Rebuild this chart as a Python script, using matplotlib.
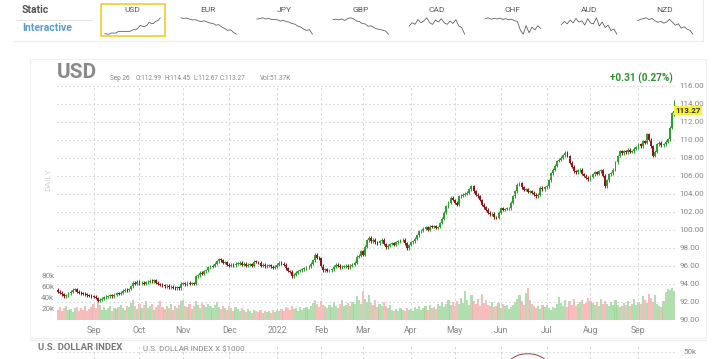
import numpy as np
import pandas as pd
import matplotlib
matplotlib.use("Agg")
import matplotlib.pyplot as plt
from matplotlib.patches import Rectangle
from matplotlib.lines import Line2D

plt.rcParams['font.family'] = ['Roboto', 'DejaVu Sans']

# ---------------- data ----------------
dates = pd.bdate_range('2021-08-09', '2022-09-26')

closes = [
    93.1, 93.0, 92.8, 92.6, 92.7, 92.9, 93.1, 93.3, 93.4, 93.1,
    93.0, 92.9, 92.85, 92.8, 92.7, 92.65, 92.6, 92.55, 92.4, 92.1,
    92.2, 92.3, 92.45, 92.55, 92.6, 92.7, 92.6, 92.75, 92.9, 92.85,
    93.0, 93.2, 93.3, 93.25, 93.4, 93.7, 94.1, 94.0, 94.2, 94.05,
    94.1, 94.0, 94.15, 94.2, 94.3, 94.25, 94.35, 94.1, 93.95, 93.85,
    93.8, 93.7, 93.75, 93.6, 93.65, 93.55, 93.5, 93.6, 93.5, 94.0,
    94.05, 93.9, 94.1, 94.0, 94.05, 94.0, 94.8, 94.9, 95.2, 95.1,
    95.35, 95.5, 95.8, 95.9, 96.0, 96.2, 96.5, 96.7, 96.6, 96.3,
    96.4, 96.1, 96.0, 96.1, 96.05, 96.2, 96.2, 96.3, 96.1, 96.2,
    96.0, 96.1, 96.15, 96.0, 96.45, 96.4, 96.3, 96.0, 96.1, 95.95,
    96.0, 96.05, 95.9, 95.75, 95.9, 96.1, 96.3, 96.2, 96.1, 95.7,
    95.4, 95.3, 94.8, 95.0, 95.2, 95.4, 95.5, 95.6, 95.7, 95.8,
    95.9, 96.2, 96.6, 97.2, 96.9, 96.8, 96.0, 95.5, 95.6, 95.4,
    95.5, 95.6, 95.9, 96.1, 96.0, 95.8, 95.9, 95.9, 96.0, 95.8,
    96.0, 96.1, 96.3, 97.0, 97.1, 97.6, 97.2, 98.1, 98.8, 99.1,
    98.7, 98.9, 98.6, 98.5, 98.7, 98.9, 98.4, 98.05, 98.2, 98.4,
    98.5, 98.3, 98.6, 98.7, 98.8, 98.9, 98.5, 97.95, 98.3, 98.6,
    98.7, 99.0, 99.4, 99.8, 99.9, 100.1, 100.3, 100.0, 100.35, 100.3,
    100.4, 100.2, 100.3, 100.75, 101.2, 101.9, 102.6, 103.0, 103.55, 103.3,
    103.0, 102.8, 103.7, 103.8, 103.9, 104.0, 104.1, 104.5, 104.85, 104.3,
    103.9, 103.7, 103.3, 102.8, 102.5, 102.2, 101.9, 101.7, 101.8, 101.4,
    101.3, 101.9, 102.4, 102.2, 102.3, 102.4, 102.4, 103.0, 103.7, 104.3,
    105.0, 105.2, 104.7, 104.45, 104.5, 104.2, 104.3, 104.1, 103.9, 103.7,
    103.9, 104.65, 104.5, 104.7, 104.85, 105.5, 106.3, 106.7, 107.1, 107.65,
    107.8, 108.0, 108.3, 108.55, 108.2, 107.45, 107.0, 106.5, 106.4, 106.6,
    106.7, 106.2, 106.0, 105.8, 105.6, 105.9, 106.15, 106.4, 106.2, 106.5,
    106.6, 106.0, 104.85, 105.5, 106.15, 106.3, 106.7, 107.5, 108.2, 108.75,
    108.5, 108.75, 108.6, 108.9, 108.7, 108.75, 109.0, 109.2, 109.5, 109.3,
    109.85, 109.7, 110.6, 110.0, 109.3, 108.2, 108.7, 109.5, 109.7, 109.4,
    109.5, 109.8, 110.05, 111.35, 112.96, 113.27,
]
first_open = 93.3
last_open = 112.99
last_high = 114.45
last_low = 112.67

volumes = [
    18, 22, 15, 20, 25, 17, 19, 14, 21, 23,
    16, 20, 18, 24, 15, 19, 22, 28, 21, 35,
    26, 18, 22, 17, 20, 24, 16, 21, 19, 23,
    27, 20, 18, 25, 22, 30, 36, 24, 19, 28,
    21, 26, 33, 20, 24, 29, 18, 22, 27, 34,
    23, 19, 25, 21, 28, 17, 24, 20, 26, 33,
    36, 25, 22, 28, 19, 24, 33, 27, 21, 30,
    26, 22, 29, 24, 20, 27, 32, 23, 19, 25,
    21, 18, 24, 20, 16, 22, 19, 15, 20, 17,
    14, 19, 16, 12, 18, 15, 13, 17, 11, 15,
    13, 16, 12, 18, 14, 17, 15, 19, 16, 22,
    20, 17, 24, 19, 21, 16, 22, 18, 20, 23,
    19, 25, 30, 36, 28, 22, 33, 27, 24, 20,
    26, 22, 31, 25, 21, 28, 35, 24, 27, 30,
    25, 32, 29, 42, 35, 28, 51, 37, 32, 44,
    30, 27, 35, 22, 28, 25, 32, 24, 21, 26,
    17, 15, 19, 16, 21, 18, 15, 20, 17, 19,
    16, 22, 19, 25, 18, 21, 24, 17, 27, 20,
    23, 19, 28, 25, 32, 22, 29, 36, 26, 31,
    24, 34, 28, 39, 30, 52, 35, 27, 44, 33,
    29, 38, 25, 46, 30, 35, 27, 24, 32, 22,
    25, 30, 21, 28, 24, 26, 19, 23, 27, 31,
    38, 45, 33, 27, 48, 58, 36, 29, 25, 21,
    24, 19, 27, 22, 26, 20, 18, 23, 21, 28,
    41, 30, 25, 35, 22, 33, 27, 37, 24, 29,
    31, 36, 28, 30, 39, 34, 30, 26, 32, 24,
    37, 29, 34, 28, 24, 31, 26, 35, 27, 22,
    25, 30, 27, 33, 24, 29, 38, 26, 31, 28,
    43, 35, 30, 47, 39, 32, 44, 28, 25, 22,
    33, 50, 55, 54, 58, 51.37,
]

price_ticks = [90, 92, 94, 96, 98, 100, 102, 104, 106, 108, 110, 112, 114, 116]
vol_ticks = [20, 40, 60, 80]
vol_tick_labels = ['20k', '40k', '60k', '80k']

currencies = ['USD', 'EUR', 'JPY', 'GBP', 'CAD', 'CHF', 'AUD', 'NZD']
spark_eur = [10, 9.8, 9.9, 9.5, 9.2, 9.3, 8.8, 8.6, 8.9, 8.4, 8.0, 7.9, 7.2, 7.4, 6.5, 6.0, 5.2, 5.5, 4.5, 3.8]
spark_jpy = [9, 9.2, 9.5, 9.0, 9.3, 8.8, 8.9, 8.7, 8.2, 8.5, 8.0, 7.8, 7.2, 7.0, 6.2, 5.8, 5.0, 4.5, 4.8, 3.0]
spark_gbp = [8.5, 8.7, 8.4, 8.8, 8.2, 8.9, 9.2, 8.8, 8.0, 7.8, 7.0, 6.9, 6.0, 6.2, 5.5, 5.0, 4.8, 4.5, 4.2, 3.0]
spark_cad = [7, 8, 7.5, 9, 8, 8.5, 9.5, 8, 7.5, 8.8, 8.2, 9.2, 8, 7.5, 8.5, 7.8, 8.9, 7, 6.5, 4.5]
spark_chf = [9, 9.3, 8.8, 9.1, 8.9, 9.2, 8.7, 9.0, 8.6, 8.8, 8.3, 8.0, 5.0, 3.5, 6.5, 4.0, 6.0, 5.0, 6.5, 5.5]
spark_aud = [7, 8, 7.2, 8.5, 7.5, 9, 7.8, 8.2, 6.8, 8.9, 7.5, 7.2, 9.2, 6.5, 7.8, 6.0, 6.8, 5.0, 5.5, 3.8]
spark_nzd = [8, 8.5, 8.7, 9.0, 8.4, 8.8, 8, 7.5, 7.8, 7.2, 7.6, 8.5, 7.5, 6.5, 7, 5.5, 6, 5.2, 4.8, 3.5]

lower_pane_idx = [217, 219, 221, 223, 225, 227, 229, 231, 233]
lower_pane_vals = [35, 40, 43.5, 45, 45.5, 45, 43.5, 40, 35]

# ---------------- derived ----------------
n = len(closes)
closes_a = np.array(closes)
opens_a = np.concatenate([[first_open], closes_a[:-1]])
opens_a[-1] = last_open
up = closes_a >= opens_a
WICK = 0.16
highs_a = np.maximum(opens_a, closes_a) + WICK
lows_a = np.minimum(opens_a, closes_a) - WICK
highs_a[-1] = last_high
lows_a[-1] = last_low
idx = np.arange(n)

months = dates.to_period('M')
month_idx = [i for i in range(1, n) if months[i] != months[i - 1]]
month_lbl = [('2022' if dates[i].month == 1 else dates[i].strftime('%b')) for i in month_idx]

W, H = 720, 359
def fx(p): return p / W
def fy(p): return 1 - p / H

GRAY = '#858585'
fig = plt.figure(figsize=(7.2, 3.59), dpi=100)

# ---------------- top navigation ----------------
fig.text(fx(22), fy(10), 'Static', fontsize=7.5, fontweight='bold', color='#555555', va='center')
fig.text(fx(22), fy(28), 'Interactive', fontsize=7.5, fontweight='bold', color='#5b9bd1', va='center')
fig.add_artist(Line2D([fx(16), fx(92)], [fy(20), fy(20)], color='#e4e4e4', lw=0.8))
fig.add_artist(Line2D([fx(14), fx(703)], [fy(40.5), fy(40.5)], color='#ececec', lw=0.8))
fig.add_artist(Line2D([fx(703), fx(703)], [fy(0), fy(40.5)], color='#ececec', lw=0.8))

sparks = [closes[::12] + [closes[-1]], spark_eur, spark_jpy, spark_gbp, spark_cad, spark_chf, spark_aud, spark_nzd]
for i, (cur, sp) in enumerate(zip(currencies, sparks)):
    cx = 132 + 76.1 * i
    fig.text(fx(cx), fy(10), cur, fontsize=6, color='#555555', ha='center', va='center')
    sax = fig.add_axes([fx(cx - 30), fy(35), 61 / W, 18 / H])
    sax.plot(np.arange(len(sp)), sp, color='#555555', lw=0.55)
    sax.axis('off')
fig.add_artist(Rectangle((fx(100.5), fy(35.5)), 64 / W, 31 / H, fill=False,
                         edgecolor='#f0d23c', lw=1.3, transform=fig.transFigure))

# ---------------- main panel ----------------
fig.add_artist(Rectangle((fx(30), fy(338)), 676 / W, 279 / H, fill=False,
                         edgecolor='#efefef', lw=0.8, transform=fig.transFigure))

rect = [fx(57), fy(319.5), 618 / W, 233.5 / H]
ax_v = fig.add_axes(rect)
ax = fig.add_axes(rect, sharex=ax_v)
ax.patch.set_alpha(0)

vcol = np.where(up, '#9ed69a', '#f5adad')
ax_v.bar(idx, volumes, width=1.05, color=vcol, alpha=0.8, linewidth=0)
ax_v.set_ylim(0, 424.5)
ax_v.set_yticks(vol_ticks)
ax_v.set_yticklabels(vol_tick_labels)
ax_v.tick_params(axis='y', length=0, pad=2, labelsize=5.8, labelcolor=GRAY)
ax_v.tick_params(axis='x', length=0, labelbottom=False)
for s in ax_v.spines.values():
    s.set_visible(False)
ax_v.grid(axis='x', color='#d2d2d2', lw=0.6, linestyle=(0, (3, 3)))

# candles
ccol = np.where(up, '#2f9f2f', '#8a1a1a')
ax.vlines(idx, lows_a, highs_a, color=ccol, lw=0.75)
body_lo = np.minimum(opens_a, closes_a)
body_h = np.maximum(np.abs(closes_a - opens_a), 0.06)
ax.bar(idx, body_h, bottom=body_lo, width=0.9, color=ccol, linewidth=0)

ax.set_xlim(-0.5, n - 0.5)
ax.set_ylim(90, 116)
ax.yaxis.tick_right()
ax.set_yticks(price_ticks)
ax.set_yticklabels([f'{t:.2f}' for t in price_ticks])
ax.tick_params(axis='y', length=0, pad=3, labelsize=5.8, labelcolor=GRAY)
ax.set_xticks(month_idx)
ax.set_xticklabels(month_lbl)
ax.tick_params(axis='x', length=0, pad=4.5, labelsize=6.2, labelcolor=GRAY)
ax.grid(axis='y', color='#cfcfcf', lw=0.8, linestyle=(0, (1.2, 2.4)))
for s in ax.spines.values():
    s.set_visible(False)

# last-price tag
ax.text(n - 0.5, closes[-1], f'{closes[-1]:.2f}', transform=ax.transData,
        fontsize=5.8, fontweight='bold', color='#333333', va='center', ha='left',
        bbox=dict(boxstyle='square,pad=0.15', facecolor='#f6f23a', edgecolor='none'),
        clip_on=False)

# header texts
last_date = dates[-1].strftime('%b %d').replace(' 0', ' ')
HDR = 4.7
fig.text(fx(57), fy(73), 'USD', fontsize=15, fontweight='bold', color='#8a8a8a', va='center')
fig.text(fx(110), fy(78), last_date, fontsize=HDR, color=GRAY, va='center')
fig.text(fx(136), fy(78), f'O:{last_open:.2f}', fontsize=HDR, color=GRAY, va='center')
fig.text(fx(164.5), fy(78), f'H:{last_high:.2f}', fontsize=HDR, color=GRAY, va='center')
fig.text(fx(193), fy(78), f'L:{last_low:.2f}', fontsize=HDR, color=GRAY, va='center')
fig.text(fx(220), fy(78), f'C:{closes[-1]:.2f}', fontsize=HDR, color=GRAY, va='center')
fig.text(fx(260), fy(78), f'Vol:{volumes[-1]:.2f}K', fontsize=HDR, color=GRAY, va='center')
chg = closes[-1] - closes[-2]
pct = chg / closes[-2] * 100
fig.text(fx(610), fy(78), f'+{chg:.2f} ({pct:.2f}%)', fontsize=7.2, fontweight='bold',
         color='#2f8f2f', va='center')
fig.text(fx(48), fy(180), 'DAILY', fontsize=6, color='#d4d4d4', rotation=90, ha='center', va='center')

# ---------------- lower pane ----------------
fig.add_artist(Line2D([fx(30), fx(706)], [fy(340), fy(340)], color='#ececec', lw=0.8))
fig.text(fx(38), fy(348), 'U.S. DOLLAR INDEX', fontsize=6.8, fontweight='bold', color='#777777', va='center')
fig.text(fx(143), fy(349), 'U.S. DOLLAR INDEX X $1000', fontsize=5.8, color=GRAY, va='center')
ax2 = fig.add_axes([fx(57), 0, 618 / W, 15 / H], sharex=ax)
ax2.patch.set_alpha(0)
ax2.plot(lower_pane_idx, lower_pane_vals, color='#a33a3a', lw=0.7)
ax2.set_ylim(35, 65)
ax2.yaxis.tick_right()
ax2.set_yticks([50])
ax2.set_yticklabels(['50k'])
ax2.tick_params(axis='y', length=0, pad=6, labelsize=5.8, labelcolor=GRAY)
ax2.tick_params(axis='x', length=0, labelbottom=False)
ax2.grid(axis='y', color='#cfcfcf', lw=0.8, linestyle=(0, (1.2, 2.4)))
ax2.grid(axis='x', color='#d2d2d2', lw=0.6, linestyle=(0, (3, 3)))
for s in ax2.spines.values():
    s.set_visible(False)

fig.savefig('out.png', dpi=100, facecolor='white')
